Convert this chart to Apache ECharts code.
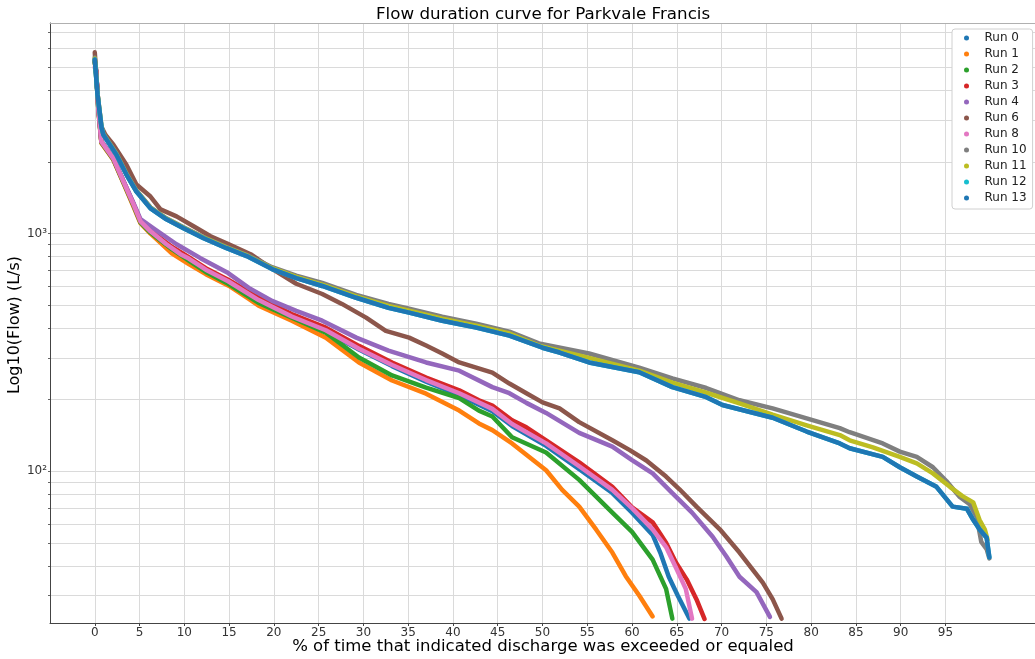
<!DOCTYPE html>
<html>
<head>
<meta charset="utf-8">
<script src="https://cdn.jsdelivr.net/npm/echarts@6/dist/echarts.min.js"></script>
<style>
html,body{margin:0;padding:0;background:#fff;}
#chart{width:1035px;height:659px;}
</style>
</head>
<body>
<div id="chart"></div>
<script>
// ---- data (x = % of time exceeded, y = flow L/s) ----
const runNames = ['Run 0','Run 1','Run 2','Run 3','Run 4','Run 6','Run 8','Run 10','Run 11','Run 12','Run 13'];
const runColors = ['#1f77b4','#ff7f0e','#2ca02c','#d62728','#9467bd','#8c564b','#e377c2','#7f7f7f','#bcbd22','#17becf','#1f77b4'];

const run0 = [[0,5300],[0.15,4800],[0.3,3900],[0.4,3350],[0.74,2433],[2.08,2066],[3.2,1655],[4.32,1327],[5.1,1126],[6.22,1022],[8,902],[9.57,819],[10.5,780],[12.4,700],[14.9,625],[18.3,520],[22,444],[25.8,388],[29.5,325],[33.2,277],[37,238],[40.7,209],[44.4,179],[46.6,155],[50.4,128],[54.1,102],[57.8,81],[60,67],[62.3,54],[63.2,45],[64.1,36],[65.1,30],[66.4,24]];
const run1 = [[0,5250],[0.15,4750],[0.3,3850],[0.4,3300],[0.74,2400],[2.08,2040],[3.2,1630],[4.32,1300],[5.1,1105],[6.22,1000],[6.8,955],[8.6,826],[10.5,744],[12.4,675],[15,602],[17.2,531],[18.3,497],[22,430],[25.8,365],[29.5,287],[33.2,241],[37,212],[40.7,180],[42.9,159],[44.4,149],[46.6,131],[50.4,101],[52.2,83.5],[54.1,71],[56,56.8],[57.8,45.5],[59.3,36.2],[60.8,30],[62.3,24.5]];
const run2 = [[0,5280],[0.15,4780],[0.3,3880],[0.4,3320],[0.74,2420],[2.08,2050],[3.2,1640],[4.32,1315],[5.1,1115],[6.22,1010],[6.8,970],[8.6,860],[10.5,770],[12.4,690],[14.9,615],[18.3,511],[22,443],[25.8,383],[29.5,301],[33.2,253],[37,225],[40.7,203],[42.9,180],[44.4,170],[46.6,139],[50.4,120],[54.1,92],[57.8,67],[60,55.6],[62.3,42.5],[63.8,32],[64.5,24]];
const run3 = [[0,5350],[0.15,4850],[0.3,3920],[0.4,3380],[0.74,2440],[2.08,2070],[3.2,1660],[4.32,1335],[5.1,1135],[6.22,1030],[6.8,990],[8.6,880],[10.5,795],[12.4,715],[14.9,640],[18.3,537],[22,459],[25.8,402],[29.5,337],[33.2,287],[37,248],[40.7,219],[42.9,199],[44.4,189],[46.6,164],[48.2,153],[50.4,135],[54.1,109],[57.8,86],[60,70.6],[62.3,61],[63.8,50],[64.9,41.3],[66.1,35.1],[67.2,28.9],[68.1,23.9]];
const run4 = [[0,5400],[0.15,4850],[0.3,3950],[0.4,3400],[0.74,2450],[2.08,2080],[3.2,1670],[4.32,1345],[5.1,1150],[6.55,1052],[9.13,902],[11.8,788],[14.9,682],[17.2,591],[19.8,521],[22.5,473],[25.4,430],[29.2,365],[32.8,322],[37,287],[40.7,265],[44.4,226],[46.3,213],[48.2,194],[50.4,176],[54.1,145],[57.8,127],[60,111.5],[62.3,98],[64.5,81],[66.7,67],[69,53],[70.5,44],[72,36],[73.9,31],[75.4,24.4]];
const run6 = [[0,5790],[0.3,3940],[0.63,2866],[1.2,2600],[2.08,2364],[3.53,1950],[4.65,1608],[6.22,1432],[7.34,1264],[9.13,1181],[11.03,1073],[12.93,974],[14.72,911],[17.4,819],[19.8,710],[22.5,615],[25.4,557],[27.6,506],[30.3,443],[32.5,390],[35.1,365],[37,338],[38.8,313],[40.7,287],[44.4,260],[46.3,234],[48.2,213],[50,195],[51.9,184],[54.1,161],[57.8,135],[59.7,123],[61.6,111],[63.8,95],[65.3,84],[67.2,71],[69.8,57],[72,45.5],[74.6,34],[75.7,29],[76.7,24]];
const run8 = [[0,5000],[0.15,4776],[0.3,3900],[0.4,3350],[0.74,2433],[2.08,2066],[3.2,1655],[4.32,1327],[5.1,1126],[6.22,1022],[8,902],[9.57,819],[10.5,785],[12.4,705],[14.9,630],[18.3,525],[22,448],[25.8,392],[29.5,328],[33.2,280],[37,242],[40.7,213],[44.4,183],[46.6,158],[50.4,131],[54.1,105],[57.8,83.5],[60,70],[62.3,57],[63.8,48],[65,38.6],[66,32],[66.7,24]];
const run10 = [[0,5500],[0.3,3900],[0.75,2830],[0.96,2630],[2.42,2170],[3.53,1790],[4.65,1520],[6.22,1290],[8,1160],[9.91,1063],[12.15,966],[14.72,878],[16.96,814],[19.8,722],[22.5,665],[25.4,620],[29.2,552],[32.8,506],[35.1,483],[38.8,447],[42.6,418],[46.3,387],[49.6,345],[55.2,313],[60.8,273],[64.5,246],[68.3,224],[72,199],[75.7,184],[79.5,167],[83.2,152],[84.3,146],[88,131],[89.9,121],[91.8,115],[93.6,104],[95.1,91],[96.6,78],[97.7,72.7],[98.5,64],[99,50.5],[99.6,47],[99.9,43]];
const run11 = [[0,5450],[0.3,3880],[0.75,2815],[0.96,2615],[2.42,2158],[3.53,1780],[4.65,1510],[6.22,1283],[8,1154],[9.91,1057],[12.15,961],[14.72,873],[16.96,809],[19.8,715],[22.5,657],[25.4,610],[29.2,544],[32.8,496],[35.1,474],[38.8,438],[42.6,410],[46.3,380],[49.6,338],[55.2,300],[60.8,265],[64.5,236],[68.3,214],[72,193],[75.7,173],[79.5,156],[83.2,142],[84.3,135],[86.9,126],[89.9,115],[91.8,108],[93.6,98],[95.5,86],[96.9,78.6],[98.1,74],[98.8,62.5],[99.4,56.8],[99.7,51.6]];
const run12 = [[0,5400],[0.3,3860],[0.75,2800],[0.96,2603],[2.42,2147],[3.53,1771],[4.65,1503],[6.22,1276],[8,1148],[9.91,1052],[12.15,956],[14.72,868],[16.96,804],[19.8,709],[22.5,650],[25.4,602],[29.2,537],[32.8,487],[35.1,465],[38.8,430],[42.6,402],[46.3,372],[50,331],[51.9,316],[55.2,287],[60.8,261],[64.5,226],[68.3,205],[70.1,190],[75.7,168],[79.5,147],[83.2,131],[84.3,125],[88,115],[89.9,104],[91.8,95],[94,86],[95.8,71],[97.4,69.5],[98.1,62.5],[98.8,57],[99.6,52.5],[99.9,43.5]];
const run13 = [[0,5400],[0.3,3860],[0.75,2800],[0.96,2603],[2.42,2147],[3.53,1771],[4.65,1503],[6.22,1276],[8,1148],[9.91,1052],[12.15,956],[14.72,868],[16.96,804],[19.8,709],[22.5,650],[25.4,602],[29.2,537],[32.8,487],[35.1,465],[38.8,430],[42.6,402],[46.3,372],[50,331],[51.9,316],[55.2,287],[60.8,261],[64.5,226],[68.3,205],[70.1,190],[75.7,168],[79.5,147],[83.2,131],[84.3,125],[88,115],[89.9,104],[91.8,95],[94,86],[95.8,71],[97.4,69.5],[98.1,62.5],[98.8,57],[99.6,52.5],[99.9,43.5]];

const xTicks = [0,5,10,15,20,25,30,35,40,45,50,55,60,65,70,75,80,85,90,95];
const yLabelTicks = [100,1000];
const yGridTicks = [30,40,50,60,70,80,90,100,200,300,400,500,600,700,800,900,1000,2000,3000,4000,5000,6000,7000];

const runData = [run0,run1,run2,run3,run4,run6,run8,run10,run11,run12,run13];

const FONT = 'DejaVu Sans';
const chart = echarts.init(document.getElementById('chart'));
chart.setOption({
  animation: false,
  backgroundColor: '#fff',
  textStyle: {fontFamily: FONT},
  title: {
    text: 'Flow duration curve for Parkvale Francis',
    left: 371, top: 1,
    textStyle: {fontFamily: FONT, fontSize: 16.7, fontWeight: 'normal', color: '#000'}
  },
  graphic: [{
    type: 'text', x: 543, y: 647, silent: true,
    style: {text: '% of time that indicated discharge was exceeded or equaled',
      font: '16.5px "DejaVu Sans"', fill: '#000', align: 'center', verticalAlign: 'middle'}
  }, {
    type: 'text', x: 15, y: 325, rotation: Math.PI / 2, silent: true,
    style: {text: 'Log10(Flow) (L/s)',
      font: '16px "DejaVu Sans"', fill: '#000', align: 'center', verticalAlign: 'middle'}
  }],
  legend: {
    orient: 'vertical',
    left: 952, top: 29,
    data: runNames,
    icon: 'circle',
    itemWidth: 18, itemHeight: 5,
    itemGap: 0,
    padding: [1, 6, 3, 12],
    backgroundColor: '#fff',
    borderColor: '#d0d0d0', borderWidth: 1, borderRadius: 3,
    textStyle: {fontFamily: FONT, fontSize: 12, color: '#222', lineHeight: 16, padding: [0,0,0,4]}
  },
  grid: {left: 50, top: 23, right: 0, bottom: 36, containLabel: false, outerBoundsMode: 'none'},
  xAxis: [{
    type: 'value', min: -5, max: 105, interval: 5,
    axisLine: {show: true, onZero: false, lineStyle: {color: '#444', width: 1}},
    axisTick: {show: true, length: 3, customValues: xTicks, lineStyle: {color: '#444'}},
    axisLabel: {customValues: xTicks, fontFamily: FONT, fontSize: 12, color: '#333', margin: 4},
    splitLine: {show: true, lineStyle: {color: '#dadada', width: 1}}
  }, {
    type: 'value', min: -5, max: 105, position: 'top',
    axisLine: {show: true, onZero: false, lineStyle: {color: '#b0b0b0', width: 1}},
    axisTick: {show: false}, axisLabel: {show: false}, splitLine: {show: false}
  }],
  yAxis: {
    type: 'log', logBase: 10, min: 23, max: 7690,
    axisLine: {show: true, onZero: false, lineStyle: {color: '#444', width: 1}},
    axisTick: {show: true, length: 2, customValues: yGridTicks, lineStyle: {color: '#666'}},
    axisLabel: {
      customValues: yLabelTicks,
      fontFamily: FONT, fontSize: 12, color: '#333', margin: 3,
      formatter: function (v) { return v === 100 ? '10\u00B2' : (v === 1000 ? '10\u00B3' : ''); }
    },
    splitLine: {show: true, lineStyle: {color: '#dadada', width: 1}}
  },
  series: runData.map(function (d, i) {
    return {
      name: runNames[i], type: 'line', data: d,
      showSymbol: false, symbol: 'circle', symbolSize: 5,
      color: runColors[i],
      lineStyle: {width: 4.5, cap: 'round', join: 'round'},
      emphasis: {disabled: true},
      z: 2
    };
  })
});
</script>
</body>
</html>
